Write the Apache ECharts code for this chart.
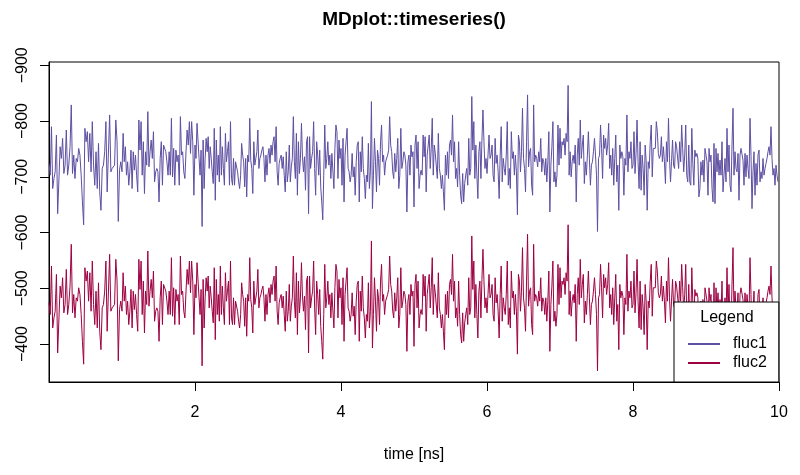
<!DOCTYPE html>
<html>
<head>
<meta charset="utf-8">
<script src="https://cdn.jsdelivr.net/npm/echarts@6/dist/echarts.min.js"></script>
<style>html,body{margin:0;padding:0;background:#fff}#c{width:800px;height:475px}</style>
</head>
<body>
<div id="c"></div>
<script>
// fluc1 values, one array per nanosecond of simulation time
const f1_0 = [-724,-703,-790,-679,-697,-709,-775,-634,-632,-754,-733,-769,-706,-721,-784,-703,-721,-754,-829,-706,-739,-697,-733,-727,-751,-739,-703,-655,-614,-787,-763,-781,-727,-778,-709,-799,-721,-685,-745,-679,-760,-673,-640,-715,-721,-745,-799,-673,-670,-811,-709,-715,-712,-721,-802,-763,-620,-712,-727];
const f1_1 = [-709,-778,-727,-754,-703,-727,-685,-709,-748,-679,-745,-712,-739,-703,-673,-802,-748,-799,-703,-763,-670,-745,-721,-817,-718,-745,-766,-733,-781,-691,-709,-715,-709,-655,-733,-763,-685,-757,-760,-745,-727,-703,-745,-703,-805,-700,-751,-685,-748,-727,-739,-685,-808,-739,-745,-709,-697,-745,-784,-757,-799,-742,-799,-763,-667];
const f1_2 = [-757,-733,-796,-799,-733,-703,-748,-611,-766,-679,-733,-769,-745,-772,-715,-754,-733,-709,-688,-787,-658,-766,-703,-739,-691,-790,-703,-754,-715,-685,-778,-727,-745,-763,-685,-799,-697,-685,-733,-685,-727,-730,-709,-691,-679,-703,-760,-739,-727,-682,-733,-664,-739,-727,-805,-730,-715,-670,-763,-721,-733,-745,-784,-715,-733,-739,-748,-754,-733,-691,-739,-703];
const f1_3 = [-739,-751,-724,-757,-739,-763,-772,-727,-790,-709,-685,-724,-733,-739,-715,-736,-703,-673,-745,-691,-709,-757,-691,-718,-733,-808,-727,-697,-778,-667,-763,-706,-733,-796,-736,-709,-736,-676,-763,-772,-634,-772,-715,-733,-745,-799,-715,-667,-763,-739,-703,-748,-682,-655,-623,-703,-793,-715,-733,-763,-721,-739,-697,-742,-739,-679,-751,-793,-781,-697,-766,-733];
const f1_4 = [-751,-685,-769,-655,-739,-763,-787,-715,-709,-691,-703,-742,-700,-718,-667,-727,-757,-763,-655,-745,-709,-772,-715,-697,-661,-703,-691,-760,-679,-709,-835,-643,-703,-769,-727,-673,-748,-733,-685,-763,-793,-727,-739,-703,-727,-724,-739,-748,-808,-757,-745,-709,-697,-742,-709,-733,-769,-679,-703,-787,-715,-727,-745,-739,-721,-637,-727,-739,-703,-757,-736,-745];
const f1_5 = [-646,-757,-775,-715,-763,-679,-703,-712,-703,-775,-736,-772,-673,-739,-757,-775,-715,-751,-805,-703,-757,-742,-739,-697,-778,-715,-703,-679,-703,-673,-640,-739,-703,-745,-697,-757,-766,-739,-811,-727,-763,-697,-715,-682,-763,-703,-667,-652,-706,-655,-688,-703,-715,-685,-769,-703,-715,-844,-748,-799,-697,-757,-703,-661,-745,-763,-697,-766,-820,-763,-715,-733];
const f1_6 = [-706,-739,-775,-733,-739,-757,-703,-691,-769,-724,-739,-709,-661,-739,-790,-691,-733,-715,-703,-739,-799,-685,-715,-679,-781,-733,-745,-703,-739,-709,-632,-775,-763,-709,-745,-823,-733,-715,-673,-763,-847,-718,-745,-751,-685,-667,-829,-727,-739,-733,-718,-745,-727,-769,-709,-733,-727,-703,-733,-691,-727,-781,-637,-721,-754,-799,-691,-709,-682,-703,-793,-721];
const f1_7 = [-787,-733,-763,-757,-769,-739,-778,-763,-864,-703,-745,-700,-727,-739,-724,-757,-655,-739,-769,-721,-802,-733,-757,-775,-688,-727,-703,-739,-781,-733,-685,-721,-727,-745,-769,-739,-703,-602,-733,-739,-793,-751,-697,-775,-751,-769,-739,-757,-796,-715,-739,-703,-751,-685,-733,-775,-691,-721,-640,-757,-733,-745,-736,-667,-733,-721,-811,-709,-745,-733,-763,-715];
const f1_8 = [-721,-781,-706,-742,-802,-727,-679,-763,-676,-739,-715,-667,-757,-727,-640,-727,-715,-763,-793,-700,-751,-754,-751,-799,-781,-742,-733,-739,-772,-727,-754,-727,-688,-763,-727,-805,-733,-691,-727,-766,-721,-715,-763,-754,-757,-715,-763,-727,-793,-751,-709,-739,-793,-703,-691,-757,-691,-685,-787,-724,-685,-748,-736,-742,-733,-664,-679,-727,-703,-730,-691,-751];
const f1_9 = [-754,-727,-667,-751,-727,-739,-679,-655,-760,-652,-751,-709,-742,-703,-730,-703,-763,-673,-703,-733,-691,-787,-709,-757,-685,-673,-757,-823,-703,-745,-715,-709,-742,-658,-739,-751,-754,-730,-685,-742,-700,-739,-715,-697,-805,-739,-643,-709,-745,-667,-724,-685,-739,-748,-691,-709,-697,-733,-703,-715,-724,-733,-745,-754,-739,-790,-733,-703,-715,-685,-721,-703,-691];

// fluc2 values, one array per nanosecond
const f2_0 = [-474,-453,-540,-429,-447,-459,-525,-384,-382,-504,-483,-519,-456,-471,-534,-453,-471,-504,-579,-456,-489,-447,-483,-477,-501,-489,-453,-405,-364,-537,-513,-531,-477,-528,-459,-549,-471,-435,-495,-429,-510,-423,-390,-465,-471,-495,-549,-423,-420,-561,-459,-465,-462,-471,-552,-513,-370,-462,-477];
const f2_1 = [-459,-528,-477,-504,-453,-477,-435,-459,-498,-429,-495,-462,-489,-453,-423,-552,-498,-549,-453,-513,-420,-495,-471,-567,-468,-495,-516,-483,-531,-441,-459,-465,-459,-405,-483,-513,-435,-507,-510,-495,-477,-453,-495,-453,-555,-450,-501,-435,-498,-477,-489,-435,-558,-489,-495,-459,-447,-495,-534,-507,-549,-492,-549,-513,-417];
const f2_2 = [-507,-483,-546,-549,-483,-453,-498,-361,-516,-429,-483,-519,-495,-522,-465,-504,-483,-459,-438,-537,-408,-516,-453,-489,-441,-540,-453,-504,-465,-435,-528,-477,-495,-513,-435,-549,-447,-435,-483,-435,-477,-480,-459,-441,-429,-453,-510,-489,-477,-432,-483,-414,-489,-477,-555,-480,-465,-420,-513,-471,-483,-495,-534,-465,-483,-489,-498,-504,-483,-441,-489,-453];
const f2_3 = [-489,-501,-474,-507,-489,-513,-522,-477,-540,-459,-435,-474,-483,-489,-465,-486,-453,-423,-495,-441,-459,-507,-441,-468,-483,-558,-477,-447,-528,-417,-513,-456,-483,-546,-486,-459,-486,-426,-513,-522,-384,-522,-465,-483,-495,-549,-465,-417,-513,-489,-453,-498,-432,-405,-373,-453,-543,-465,-483,-513,-471,-489,-447,-492,-489,-429,-501,-543,-531,-447,-516,-483];
const f2_4 = [-501,-435,-519,-405,-489,-513,-537,-465,-459,-441,-453,-492,-450,-468,-417,-477,-507,-513,-405,-495,-459,-522,-465,-447,-411,-453,-441,-510,-429,-459,-585,-393,-453,-519,-477,-423,-498,-483,-435,-513,-543,-477,-489,-453,-477,-474,-489,-498,-558,-507,-495,-459,-447,-492,-459,-483,-519,-429,-453,-537,-465,-477,-495,-489,-471,-387,-477,-489,-453,-507,-486,-495];
const f2_5 = [-396,-507,-525,-465,-513,-429,-453,-462,-453,-525,-486,-522,-423,-489,-507,-525,-465,-501,-555,-453,-507,-492,-489,-447,-528,-465,-453,-429,-453,-423,-390,-489,-453,-495,-447,-507,-516,-489,-561,-477,-513,-447,-465,-432,-513,-453,-417,-402,-456,-405,-438,-453,-465,-435,-519,-453,-465,-594,-498,-549,-447,-507,-453,-411,-495,-513,-447,-516,-570,-513,-465,-483];
const f2_6 = [-456,-489,-525,-483,-489,-507,-453,-441,-519,-474,-489,-459,-411,-489,-540,-441,-483,-465,-453,-489,-549,-435,-465,-429,-531,-483,-495,-453,-489,-459,-382,-525,-513,-459,-495,-573,-483,-465,-423,-513,-597,-468,-495,-501,-435,-417,-579,-477,-489,-483,-468,-495,-477,-519,-459,-483,-477,-453,-483,-441,-477,-531,-387,-471,-504,-549,-441,-459,-432,-453,-543,-471];
const f2_7 = [-537,-483,-513,-507,-519,-489,-528,-513,-614,-453,-495,-450,-477,-489,-474,-507,-405,-489,-519,-471,-552,-483,-507,-525,-438,-477,-453,-489,-531,-483,-435,-471,-477,-495,-519,-489,-453,-352,-483,-489,-543,-501,-447,-525,-501,-519,-489,-507,-546,-465,-489,-453,-501,-435,-483,-525,-441,-471,-390,-507,-483,-495,-486,-417,-483,-471,-561,-459,-495,-483,-513,-465];
const f2_8 = [-471,-531,-456,-492,-552,-477,-429,-513,-426,-489,-465,-417,-507,-477,-390,-477,-465,-513,-543,-450,-501,-504,-501,-549,-531,-492,-483,-489,-522,-477,-504,-477,-438,-513,-477,-555,-483,-441,-477,-516,-471,-465,-513,-504,-507,-465,-513,-477,-543,-501,-459,-489,-543,-453,-441,-507,-441,-435,-537,-474,-435,-498,-486,-492,-483,-414,-429,-477,-453,-480,-441,-501];
const f2_9 = [-504,-477,-417,-501,-477,-489,-429,-405,-510,-402,-501,-459,-492,-453,-480,-453,-513,-423,-453,-483,-441,-537,-459,-507,-435,-423,-507,-573,-453,-495,-465,-459,-492,-408,-489,-501,-504,-480,-435,-492,-450,-489,-465,-447,-555,-489,-393,-459,-495,-417,-474,-435,-489,-498,-441,-459,-447,-483,-453,-465,-474,-483,-495,-504,-489,-540,-483,-453,-465,-435,-471,-453,-441];

const xTicks = [2, 4, 6, 8, 10];
const yTicks = [-900, -800, -700, -600, -500, -400];
const seriesNames = ['fluc1', 'fluc2'];

// each segment covers one nanosecond [k, k+1), samples evenly spread
function toPairs(segs) {
  const out = [];
  segs.forEach((seg, k) => {
    seg.forEach((v, j) => out.push([k + j / seg.length, v]));
  });
  return out;
}
const fluc1 = toPairs([f1_0, f1_1, f1_2, f1_3, f1_4, f1_5, f1_6, f1_7, f1_8, f1_9]);
const fluc2 = toPairs([f2_0, f2_1, f2_2, f2_3, f2_4, f2_5, f2_6, f2_7, f2_8, f2_9]);

const FONT = 'Liberation Sans, Arial, Helvetica, sans-serif';
const chart = echarts.init(document.getElementById('c'), null, { renderer: 'canvas' });
chart.setOption({
  animation: false,
  backgroundColor: '#fff',
  color: ['#5E4FA2', '#9E0142'],
  title: [
    { text: 'MDplot::timeseries()', left: 414, top: 10, textAlign: 'center', padding: 0,
      textStyle: { fontFamily: FONT, fontSize: 19, fontWeight: 'bold', color: '#000' } },
    { text: 'Legend', left: 727, top: 310, textAlign: 'center', padding: 0, z: 10,
      textStyle: { fontFamily: FONT, fontSize: 16, fontWeight: 'normal', color: '#000' } }
  ],
  legend: {
    orient: 'vertical', left: 674, top: 302,
    padding: [34, 12, 11, 14],
    itemGap: 3, itemWidth: 32, itemHeight: 14,
    backgroundColor: '#fff', borderColor: '#000', borderWidth: 1, borderRadius: 0,
    icon: 'path://M0,6 L32,6 L32,8 L0,8 Z',
    textStyle: { fontFamily: FONT, fontSize: 16, color: '#000', padding: [0, 0, 0, 8] },
    data: seriesNames
  },
  grid: { left: 49, right: 21, top: 62, height: 320, show: true, borderColor: '#000', borderWidth: 1, containLabel: false },
  xAxis: {
    type: 'value', min: 0, max: 10,
    name: 'time [ns]', nameLocation: 'middle', nameGap: 65,
    nameTextStyle: { fontFamily: FONT, fontSize: 16, color: '#000' },
    axisLine: { show: true, onZero: false, lineStyle: { color: '#000', width: 1 } },
    axisTick: { show: true, inside: false, length: 9, customValues: xTicks, lineStyle: { color: '#000' } },
    axisLabel: { customValues: xTicks, margin: 23, fontFamily: FONT, fontSize: 16, color: '#000' },
    splitLine: { show: false }
  },
  yAxis: {
    type: 'value', inverse: true, min: -906, max: -332,
    axisLine: { show: true, onZero: false, lineStyle: { color: '#000', width: 1 } },
    axisTick: { show: true, inside: false, length: 9, customValues: yTicks, lineStyle: { color: '#000' } },
    axisLabel: { customValues: yTicks, rotate: 90, margin: 18, fontFamily: FONT, fontSize: 16, color: '#000',
      formatter: v => String(v).replace('-', '\u2212') },
    splitLine: { show: false }
  },
  series: [
    { name: seriesNames[0], type: 'line', data: fluc1, showSymbol: false, symbol: 'none', lineStyle: { width: 1 }, z: 2 },
    { name: seriesNames[1], type: 'line', data: fluc2, showSymbol: false, symbol: 'none', lineStyle: { width: 1 }, z: 2 }
  ]
});
</script>
</body>
</html>
